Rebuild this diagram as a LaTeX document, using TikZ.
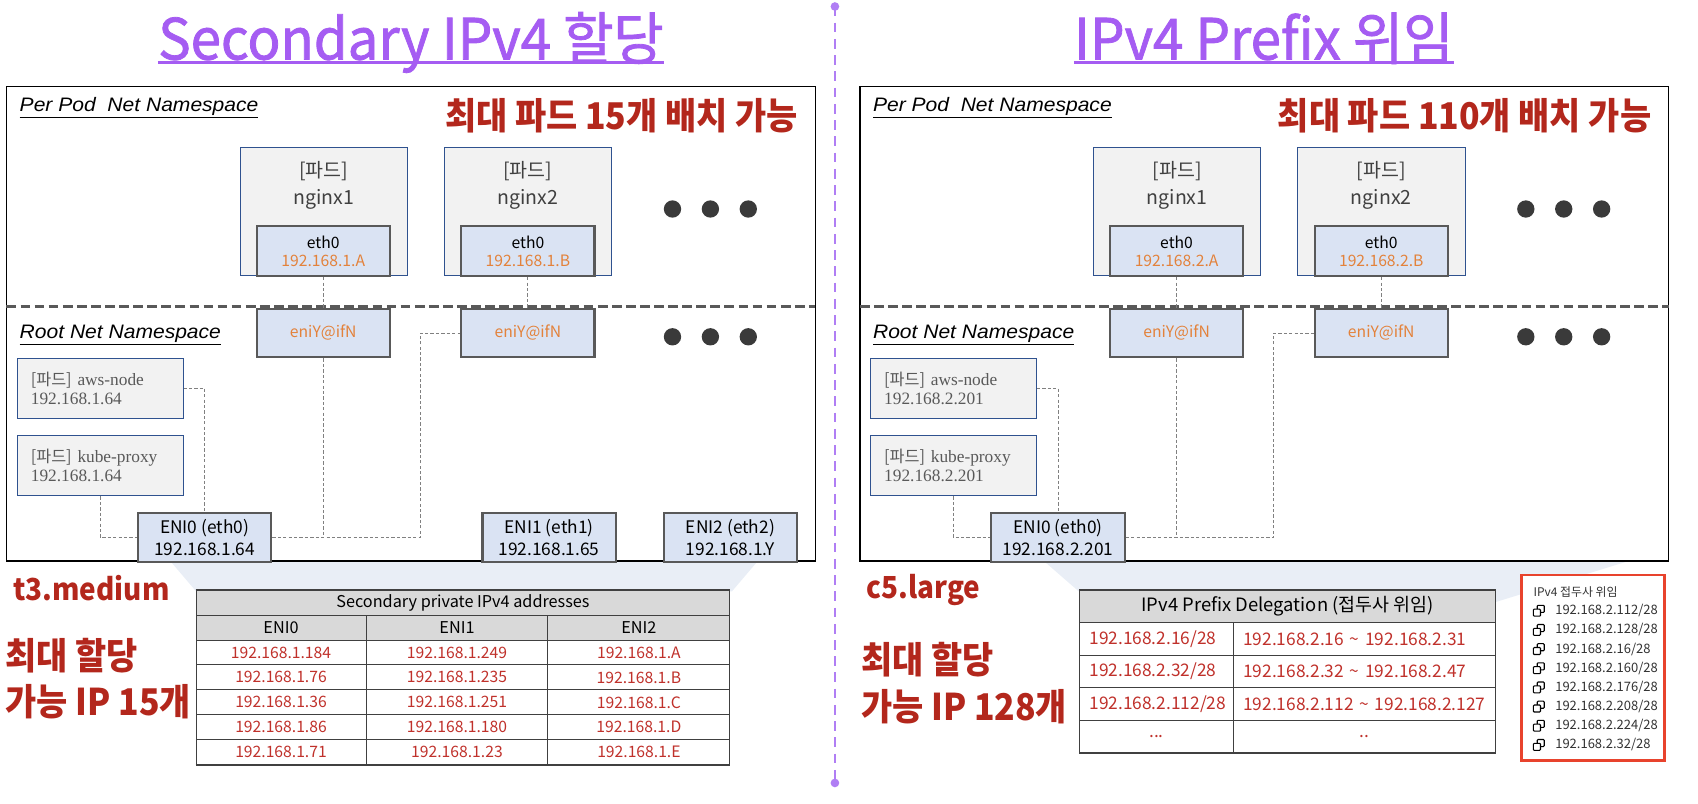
\documentclass[tikz,border=0pt]{standalone}
\usepackage{fontspec}
\setmainfont{Noto Sans CJK KR}
\newfontfamily\ttlfont[FakeStretch=0.96,FakeBold=1.4]{Noto Sans CJK KR}
\newfontfamily\narrowkr[FakeStretch=0.92]{Noto Sans CJK KR}
\newfontfamily\nsfont[FakeStretch=1.08]{Liberation Sans}
\newfontfamily\sysfont{Liberation Serif}
\usepackage{color}

\definecolor{ttlpurple}{HTML}{A55CF2}
\definecolor{divpurple}{HTML}{B07EF4}
\definecolor{hotred}{HTML}{B3271C}
\definecolor{tblred}{HTML}{C0312B}
\definecolor{iporange}{HTML}{E3823B}
\definecolor{podfill}{HTML}{F2F2F2}
\definecolor{podline}{HTML}{2F528F}
\definecolor{podtext}{HTML}{404040}
\definecolor{systext}{HTML}{595959}
\definecolor{iffill}{HTML}{DAE3F3}
\definecolor{ifline}{HTML}{595959}
\definecolor{connline}{HTML}{808080}
\definecolor{sepgray}{HTML}{595959}
\definecolor{dotgray}{HTML}{3A3A3A}
\definecolor{hdrfill}{HTML}{D9D9D9}
\definecolor{tblline}{HTML}{404040}
\definecolor{wedge}{HTML}{E9EEF6}
\definecolor{boxred}{HTML}{E8432D}
\definecolor{pfxtext}{HTML}{333333}

\newcommand{\fsz}[1]{\fontsize{#1}{#1}\selectfont}
\newcommand{\fszl}[2]{\fontsize{#1}{#2}\selectfont}

\begin{document}
\begin{tikzpicture}[x=1pt, y=-1pt,
  ttl/.style={inner sep=0pt, anchor=base, text=ttlpurple, font=\ttlfont\fsz{52.5}},
  nsbox/.style={draw=black, line width=1.3pt},
  sepline/.style={draw=sepgray, line width=2.2pt, dash pattern=on 9pt off 4pt},
  nslabel/.style={inner sep=0pt, anchor=base west, font=\nsfont\itshape\fsz{18}},
  hotlabel/.style={inner sep=0pt, text=hotred, font=\narrowkr\bfseries\fsz{34}},
  podbox/.style={draw=podline, fill=podfill, line width=0.9pt, minimum width=154pt, minimum height=118pt},
  podtxt/.style={align=center, text=podtext, font=\fszl{18}{24.5}},
  ifbox/.style={draw=ifline, fill=iffill, line width=2pt, minimum width=123pt, minimum height=46pt, inner sep=0pt, align=center, font=\fszl{14.5}{17}},
  enibox/.style={ifbox, minimum height=45pt, font=\fszl{16}{20}},
  sysbox/.style={draw=podline, fill=podfill, line width=0.9pt, minimum height=55pt, inner xsep=12.5pt, text width=128pt, align=left, text=systext, font=\sysfont\fszl{16}{18}},
  conn/.style={draw=connline, line width=0.8pt, dash pattern=on 3pt off 2pt},
  dot/.style={fill=dotgray},
  hdrcell/.style={draw=tblline, fill=hdrfill, line width=0.9pt, inner sep=0pt, font=\fsz{15}},
  datcell/.style={draw=tblline, fill=white, line width=0.9pt, inner sep=0pt, text=tblred, font=\fsz{14.5}},
  tblrule/.style={draw=tblline, line width=2pt},
  sizelabel/.style={inner sep=0pt, anchor=west, text=hotred, align=left, font=\narrowkr\bfseries\fszl{34}{43}},
  pfxbox/.style={draw=boxred, fill=white, line width=2.5pt},
  pfxtxt/.style={inner sep=0pt, anchor=west, text=pfxtext, font=\fsz{12}},
  copyicon/.pic={
    \draw[line width=1pt, fill=white, rounded corners=0.8pt] (-1.5,-5) rectangle (5,1.5);
    \draw[line width=1pt, fill=white, rounded corners=0.8pt] (-5,-1.5) rectangle (1.5,5);
  }]
\useasboundingbox (0,0) rectangle (1568,742);

% titles
\node[ttl] (ttlL) at (379.5,55) {Secondary IPv4 할당};
\draw[ttlpurple, line width=2.5pt] ([yshift=-3pt]ttlL.base west) -- ([yshift=-3pt]ttlL.base east);
\node[ttl] (ttlR) at (1167,55) {IPv4 Prefix 위임};
\draw[ttlpurple, line width=2.5pt] ([yshift=-3pt]ttlR.base west) -- ([yshift=-3pt]ttlR.base east);

% divider
\coordinate (divtop) at (771,6);
\coordinate (divbot) at (771,723);
\draw[divpurple, line width=2pt, dash pattern=on 9pt off 6pt] (divtop) -- (divbot);
\fill[divpurple] (divtop) circle (4pt) (divbot) circle (4pt);

% wedges under the tables
\fill[wedge] (158,519) -- (699,519) -- (676,546) -- (181,546) -- cycle;
\fill[wedge] (965,519) -- (1501,519) -- (1381,556) -- (996,546) -- cycle;

% the two nodes
\foreach \dx/\p/\net/\host/\cnt in {0/L/1/64/15, 788/R/2/201/110} {
\begin{scope}[xshift=\dx]
\draw[nsbox] (6,80) rectangle (753,518);
\draw[sepline] (6,283) -- (753,283);
\node[nslabel] (ppns\p) at (18,103) {\underline{Per Pod\ \ Net Namespace}};
\node[nslabel] (rtns\p) at (18,313) {\underline{Root Net Namespace}};
\node[hotlabel, anchor=east] (maxpod\p) at (737,107) {최대 파드 \cnt 개 배치 가능};

\node[podbox] (poda\p) at (299,195) {};
\node[podtxt] (podat\p) at (299,171) {[파드]\\nginx1};
\node[ifbox] (etha\p) at (298.5,232) {eth0\\\textcolor{iporange}{192.168.\net.A}};
\node[podbox, minimum width=155pt] (podb\p) at (487.5,195) {};
\node[podtxt] (podbt\p) at (487.5,171) {[파드]\\nginx2};
\node[ifbox] (ethb\p) at (487.5,232) {eth0\\\textcolor{iporange}{192.168.\net.B}};

\node[ifbox, minimum height=45pt, text=iporange] (vetha\p) at (298.5,307.5) {eniY@ifN};
\node[ifbox, minimum height=45pt, text=iporange] (vethb\p) at (487.5,307.5) {eniY@ifN};
\foreach \cx in {621,656,691} {
  \fill[dot] (\cx,193) circle (8pt);
  \fill[dot] (\cx,311) circle (8pt);
}

\node[sysbox] (aws\p) at (92.5,358.5) {{\rmfamily\fsz{15}[파드]} aws-node\\192.168.\net.\host};
\node[sysbox, minimum height=56pt] (kube\p) at (92.5,430) {{\rmfamily\fsz{15}[파드]} kube-proxy\\192.168.\net.\host};
\node[enibox] (enia\p) at (189,496.5) {ENI0 (eth0)\\192.168.\net.\host};

\draw[conn] (etha\p) -- (vetha\p);
\draw[conn] (ethb\p) -- (vethb\p);
\draw[conn] (aws\p) -| (enia\p);
\draw[conn] (kube\p) |- (enia\p);
\draw[conn] (enia\p.east) -| ([xshift=-37pt]vethb\p.west) -- (vethb\p.west);
\draw[conn] (vetha\p) -- (vetha\p |- enia\p.east);
\end{scope}
}

\node[enibox] (enibL) at (507,496.5) {ENI1 (eth1)\\192.168.1.65};
\node[enibox] (enicL) at (674.5,496.5) {ENI2 (eth2)\\192.168.1.Y};

% instance types
\node[hotlabel, anchor=west, font=\narrowkr\bfseries\fsz{28}] (typeL) at (12,543) {t3.medium};
\node[hotlabel, anchor=west, font=\narrowkr\bfseries\fsz{28}] (typeR) at (800,545) {c5.large};
\node[sizelabel] (maxipL) at (5,626.5) {최대 할당\\가능 IP 15개};
\node[sizelabel] (maxipR) at (795,631) {최대 할당\\가능 IP 128개};

% secondary ip table
\node[hdrcell, minimum width=493, minimum height=23] (thL) at (427.5,556.5) {Secondary private IPv4 addresses};
\foreach \c/\cx/\w in {0/259.5/157, 1/422/168, 2/590/168}
  \node[hdrcell, minimum width=\w, minimum height=23] (tcL\c) at (\cx,579.5) {ENI\c};
\foreach \r/\a/\b/\c in {1/184/249/A, 2/76/235/B, 3/36/251/C, 4/86/180/D, 5/71/23/E} {
  \pgfmathsetmacro\ry{579.5+23*\r}
  \node[datcell, minimum width=157, minimum height=23] (tdL-\r-0) at (259.5,\ry) {192.168.1.\a};
  \node[datcell, minimum width=168, minimum height=23] (tdL-\r-1) at (422,\ry) {192.168.1.\b};
  \node[datcell, minimum width=168, minimum height=23] (tdL-\r-2) at (590,\ry) {192.168.1.\c};
}
\draw[tblrule] (thL.north west) -- (thL.north east);
\draw[tblrule] (tdL-5-0.south west) -- (tdL-5-2.south east);

% prefix table
\node[hdrcell, minimum width=384, minimum height=30, font=\fsz{17}] (thR) at (1189,560) {IPv4 Prefix Delegation (접두사 위임)};
\foreach \r/\pf/\lo/\hi in {1/16/16/31, 2/32/32/47, 3/112/112/127} {
  \pgfmathsetmacro\ry{560+30*\r}
  \node[datcell, minimum width=142, minimum height=30, inner xsep=9pt, text width=124pt, align=left, font=\fsz{16}] (tdR-\r-0) at (1068,\ry) {192.168.2.\pf/28};
  \node[datcell, minimum width=242, minimum height=30, inner xsep=9pt, text width=224pt, align=left, font=\fsz{16}] (tdR-\r-1) at (1260,\ry) {192.168.2.\lo\ \textasciitilde\ 192.168.2.\hi};
}
\node[datcell, minimum width=142, minimum height=30, font=\fsz{16}] (tdR-4-0) at (1068,680) {...};
\node[datcell, minimum width=242, minimum height=30, font=\fsz{16}] (tdR-4-1) at (1260,680) {..};
\draw[tblrule] (thR.north west) -- (thR.north east);
\draw[tblrule] (tdR-4-0.south west) -- (tdR-4-1.south east);

% prefix list
\node[pfxbox, minimum width=132, minimum height=171] (pfxR) at (1471,616.5) {};
\node[pfxtxt, font=\fsz{11}] (pfxhead) at (1416,547) {IPv4 접두사 위임};
\foreach \i/\ip in {0/112, 1/128, 2/16, 3/160, 4/176, 5/208, 6/224, 7/32} {
  \pgfmathsetmacro\py{564+17.7*\i}
  \pic at (1421,\py) {copyicon};
  \node[pfxtxt] (pfx\i) at (1436,\py) {192.168.2.\ip/28};
}
\end{tikzpicture}
\end{document}
